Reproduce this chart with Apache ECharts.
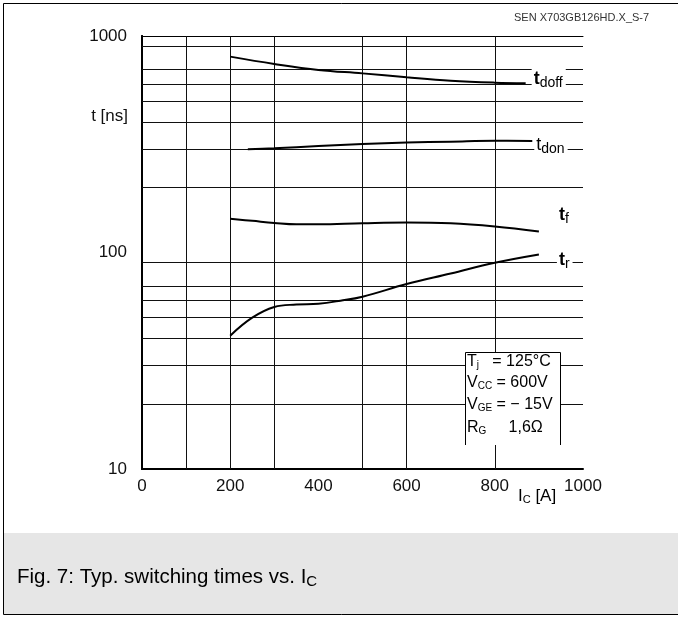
<!DOCTYPE html>
<html>
<head>
<meta charset="utf-8">
<script src="https://cdn.jsdelivr.net/npm/echarts@6/dist/echarts.min.js"></script>
<style>
  html, body { margin: 0; padding: 0; background: #fff; }
  #chart { width: 678px; height: 617px; }
</style>
</head>
<body>
<div id="chart"></div>
<script>
// ---- data ----
const tdoffI = [200, 300, 400, 500, 600, 700, 800, 870];
const tdoffT = [803, 743, 697, 672, 645, 622, 609, 605];

const tdonI = [240, 300, 400, 500, 600, 700, 800, 885];
const tdonT = [300, 303, 310, 317, 322, 325, 328, 327];

const tfI = [200, 250, 300, 350, 400, 500, 600, 700, 800, 900];
const tfT = [143, 140, 137, 135, 135, 136.5, 137.5, 136.5, 132, 125];

const trI = [200, 250, 300, 350, 400, 450, 500, 600, 700, 800, 900];
const trT = [41.3, 50, 56, 57.5, 58, 59.9, 62.5, 71.5, 80, 89.7, 98];

const xTickLabels = [0, 200, 400, 600, 800, 1000];
const yTickLabels = [10, 100, 1000];
const xGridValues = [100, 200, 300, 500, 600, 800];
const yGridValues = [20, 30, 40, 50, 60, 70, 90, 200, 300, 400, 500, 600, 700, 900];

const seriesNames = ['doff', 'don', 'f', 'r'];
const conditionLines = [
  ['T', 'j', '   = 125°C'],
  ['V', 'CC', ' = 600V'],
  ['V', 'GE', ' = − 15V'],
  ['R', 'G', '     1,6Ω']
];
const captionText = 'Fig. 7: Typ. switching times vs. I';
const captionSub = 'C';
const headerText = 'SEN X703GB126HD.X_S-7';

// ---- chart ----
const FONT = '"Liberation Sans", Arial, sans-serif';
const chart = echarts.init(document.getElementById('chart'), null, { renderer: 'canvas' });

function zip(a, b) { return a.map((v, i) => [v, b[i]]); }

function curve(name, xs, ys, offset, boldT) {
  return {
    type: 'line',
    name: name,
    data: zip(xs, ys),
    smooth: 0.4,
    symbol: 'none',
    z: 5,
    lineStyle: { color: '#000', width: 2 },
    endLabel: {
      show: true,
      formatter: '{t|t}{s|' + name + '}',
      offset: offset,
      distance: 4,
      backgroundColor: '#fff',
      padding: [1, 3, 1, 2],
      rich: {
        t: { fontFamily: FONT, fontSize: 18, fontWeight: boldT ? 'bold' : 'normal', color: '#000', lineHeight: 20 },
        s: { fontFamily: FONT, fontSize: 14, color: '#000', padding: [8, 0, 0, 0], lineHeight: 20 }
      }
    }
  };
}

const gridMarkData = [];
yGridValues.forEach(v => gridMarkData.push({ yAxis: v }));
xGridValues.forEach(v => gridMarkData.push({ xAxis: v }));

const option = {
  backgroundColor: '#fff',
  animation: false,
  grid: { left: 142, right: 95, top: 36, bottom: 148, containLabel: false },
  xAxis: [
    {
      type: 'value', min: 0, max: 1000, interval: 200,
      axisLine: { show: true, lineStyle: { color: '#000', width: 2 } },
      axisTick: { show: false },
      splitLine: { show: false },
      axisLabel: {
        color: '#111', fontFamily: FONT, fontSize: 17, margin: 9,
        formatter: v => (xTickLabels.indexOf(v) >= 0 ? String(v) : '')
      }
    },
    {
      type: 'value', min: 0, max: 1000, position: 'top',
      axisLine: { show: true, lineStyle: { color: '#000', width: 1 } },
      axisTick: { show: false }, axisLabel: { show: false }, splitLine: { show: false }
    }
  ],
  yAxis: [
    {
      type: 'log', logBase: 10, min: 10, max: 1000,
      axisLine: { show: true, lineStyle: { color: '#000', width: 2 } },
      axisTick: { show: false },
      splitLine: { show: false },
      minorSplitLine: { show: false },
      axisLabel: {
        color: '#111', fontFamily: FONT, fontSize: 17, margin: 15,
        formatter: v => (yTickLabels.indexOf(Math.round(v)) >= 0 ? String(Math.round(v)) : '')
      }
    },
    {
      type: 'log', logBase: 10, min: 10, max: 1000, position: 'right',
      axisLine: { show: true, lineStyle: { color: '#000', width: 2 } },
      axisTick: { show: false }, axisLabel: { show: false }, splitLine: { show: false }
    }
  ],
  series: [
    {
      type: 'line', data: [], z: 1, silent: true,
      markLine: {
        silent: true, symbol: 'none', animation: false,
        label: { show: false },
        lineStyle: { color: '#111', width: 1, type: 'solid' },
        emphasis: { disabled: true },
        data: gridMarkData
      }
    },
    curve(seriesNames[0], tdoffI, tdoffT, [2, -4], true),
    curve(seriesNames[1], tdonI, tdonT, [-2, 4], false),
    curve(seriesNames[2], tfI, tfT, [14, -16], true),
    curve(seriesNames[3], trI, trT, [14, 6], true)
  ],
  graphic: [
    // outer frame
    { type: 'rect', z: 0, shape: { x: 3.5, y: 3.5, width: 700, height: 611 }, style: { fill: 'none', stroke: '#000', lineWidth: 1 } },
    // caption band
    { type: 'rect', z: 0, shape: { x: 4, y: 533, width: 674, height: 81 }, style: { fill: '#e6e6e6' } },
    {
      type: 'text', z: 10, x: 17, y: 577,
      style: {
        text: '{m|' + captionText + '}{s|' + captionSub + '}',
        verticalAlign: 'middle',
        rich: {
          m: { fontFamily: FONT, fontSize: 20.5, color: '#1a1a1a', lineHeight: 26 },
          s: { fontFamily: FONT, fontSize: 15, color: '#1a1a1a', padding: [9, 0, 0, 0], lineHeight: 26 }
        }
      }
    },
    // header code
    { type: 'text', z: 10, x: 514, y: 18, style: { text: headerText, fontFamily: FONT, fontSize: 11, fill: '#333', verticalAlign: 'middle' } },
    // y axis title
    { type: 'text', z: 10, x: 128, y: 116, style: { text: 't [ns]', fontFamily: FONT, fontSize: 17, fill: '#111', align: 'right', verticalAlign: 'middle' } },
    // x axis title
    {
      type: 'text', z: 10, x: 518, y: 496,
      style: {
        text: '{m|I}{s|C}{m| [A]}', verticalAlign: 'middle',
        rich: {
          m: { fontFamily: FONT, fontSize: 17, color: '#111', lineHeight: 20 },
          s: { fontFamily: FONT, fontSize: 11, color: '#111', padding: [7, 0, 0, 0], lineHeight: 20 }
        }
      }
    },
    // conditions box
    { type: 'rect', z: 8, shape: { x: 465, y: 352, width: 95, height: 93 }, style: { fill: '#fff' } },
    { type: 'polyline', z: 9, shape: { points: [[465.5, 445], [465.5, 352.5], [560.5, 352.5], [560.5, 445]] }, style: { fill: 'none', stroke: '#000', lineWidth: 1 } }
  ].concat(conditionLines.map((row, i) => ({
    type: 'text', z: 10, x: 467, y: [362, 383, 405, 428][i],
    style: {
      text: '{m|' + row[0] + '}{s|' + row[1] + '}{m|' + row[2] + '}',
      verticalAlign: 'middle',
      rich: {
        m: { fontFamily: FONT, fontSize: 16, color: '#111', lineHeight: 20 },
        s: { fontFamily: FONT, fontSize: 10, color: '#111', padding: [7, 0, 0, 0], lineHeight: 20 }
      }
    }
  })))
};

chart.setOption(option);
</script>
</body>
</html>
